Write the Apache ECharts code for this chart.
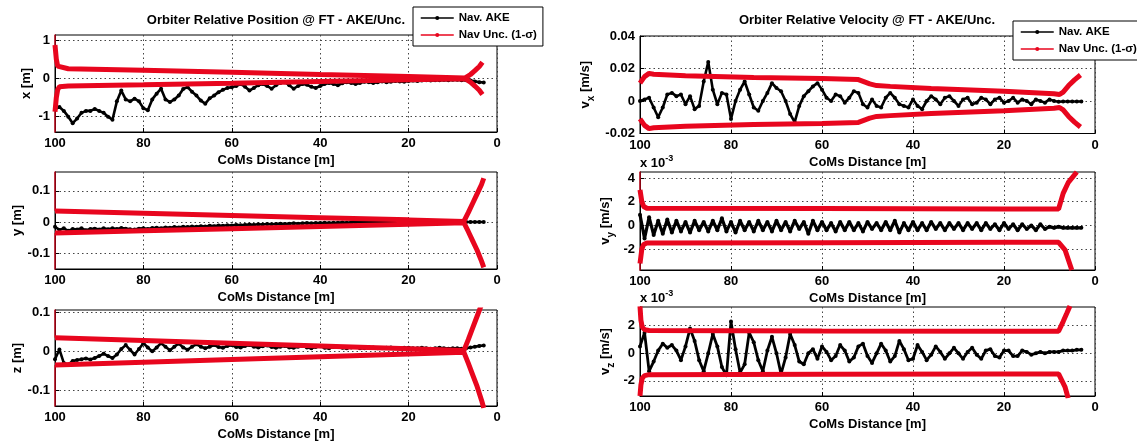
<!DOCTYPE html>
<html>
<head>
<meta charset="utf-8">
<script src="https://cdn.jsdelivr.net/npm/echarts@6/dist/echarts.min.js"></script>
<style>
  html, body { margin: 0; padding: 0; background: #fff; }
  #chart { width: 1137px; height: 446px; }
</style>
</head>
<body>
<div id="chart"></div>
<script>
// CoMs distance of each navigation sample [m]
const dist = [100,99,98,97,96,95,94,93,92,91,90,89,88,87,86,85,84,83,82,81,80,79,78,77,76,75,74,73,72,71,
  70,69,68,67,66,65,64,63,62,61,60,59,58,57,56,55,54,53,52,51,50,49,48,47,46,45,44,43,42,41,
  40,39,38,37,36,35,34,33,32,31,30,29,28,27,26,25,24,23,22,21,20,19,18,17,16,15,14,13,12,11,
  10,9,8,7,6,5,4,3];

// Nav. AKE – relative position [m]
const posX = [
  -0.80,-0.75,-0.85,-1.00,-1.17,-1.05,-0.90,-0.85,-0.85,-0.80,
  -0.85,-0.90,-1.00,-1.08,-0.60,-0.32,-0.55,-0.60,-0.53,-0.60,
  -0.78,-0.83,-0.55,-0.40,-0.27,-0.55,-0.62,-0.55,-0.45,-0.28,
  -0.23,-0.35,-0.45,-0.58,-0.66,-0.52,-0.45,-0.36,-0.30,-0.25,
  -0.23,-0.20,-0.15,-0.22,-0.32,-0.25,-0.18,-0.15,-0.20,-0.27,
  -0.18,-0.12,-0.10,-0.18,-0.27,-0.20,-0.15,-0.17,-0.22,-0.25,
  -0.20,-0.15,-0.12,-0.15,-0.18,-0.13,-0.10,-0.12,-0.15,-0.12,
  -0.09,-0.10,-0.12,-0.10,-0.08,-0.10,-0.09,-0.07,-0.08,-0.09,
  -0.07,-0.06,-0.07,-0.06,-0.05,-0.06,-0.05,-0.05,-0.04,-0.05,
  -0.04,-0.04,-0.05,-0.05,-0.06,-0.08,-0.10,-0.11];
const posY = [
  -0.015,-0.025,-0.020,-0.028,-0.022,-0.024,-0.020,-0.026,-0.022,-0.021,
  -0.024,-0.020,-0.023,-0.020,-0.022,-0.019,-0.021,-0.023,-0.024,-0.021,
  -0.020,-0.022,-0.019,-0.018,-0.020,-0.017,-0.018,-0.016,-0.017,-0.015,
  -0.016,-0.014,-0.015,-0.013,-0.014,-0.012,-0.013,-0.011,-0.012,-0.010,
  -0.011,-0.009,-0.010,-0.009,-0.008,-0.009,-0.007,-0.008,-0.006,-0.007,
  -0.006,-0.005,-0.006,-0.005,-0.004,-0.005,-0.004,-0.003,-0.004,-0.003,
  -0.003,-0.002,-0.003,-0.002,-0.002,-0.001,-0.002,-0.001,-0.001,0.000,
  -0.001,0.000,0.000,-0.001,0.000,0.000,0.000,-0.001,0.000,0.000,
  0.000,0.000,-0.001,0.000,0.000,0.000,0.000,0.000,0.000,0.000,
  0.000,0.000,0.000,0.000,0.000,0.000,0.000,0.000];
const posZ = [
  -0.020,0.005,-0.030,-0.034,-0.025,-0.022,-0.020,-0.018,-0.021,-0.017,
  -0.012,-0.006,-0.012,-0.017,-0.008,0.006,0.016,0.004,-0.008,0.006,
  0.021,0.010,0.000,0.010,0.021,0.012,0.003,0.012,0.020,0.010,
  0.004,0.012,0.018,0.012,0.008,0.012,0.016,0.011,0.009,0.014,
  0.016,0.011,0.010,0.014,0.016,0.012,0.010,0.013,0.015,0.011,
  0.009,0.012,0.014,0.010,0.009,0.012,0.014,0.010,0.008,0.011,
  0.013,0.009,0.008,0.011,0.012,0.009,0.008,0.010,0.011,0.008,
  0.008,0.010,0.010,0.008,0.008,0.009,0.010,0.008,0.008,0.009,
  0.009,0.008,0.008,0.009,0.008,0.007,0.008,0.009,0.008,0.007,
  0.008,0.008,0.007,0.008,0.010,0.012,0.014,0.015];

// Nav. AKE – relative velocity (vx in m/s, vy and vz in 1e-3 m/s)
const velX = [
  0.000,0.001,0.002,-0.004,-0.010,-0.004,0.004,0.005,0.003,0.004,
  -0.002,0.003,-0.005,-0.003,0.012,0.024,0.007,-0.002,0.005,0.004,
  -0.011,0.000,0.007,0.012,0.004,-0.004,-0.006,0.000,0.005,0.011,
  0.008,0.006,0.000,-0.008,-0.013,-0.003,0.003,0.006,0.009,0.011,
  0.007,0.002,0.000,0.004,0.003,-0.001,0.002,0.006,0.005,-0.002,
  -0.004,0.001,-0.003,-0.004,0.002,0.005,0.002,-0.002,-0.003,-0.004,
  0.001,-0.003,-0.005,0.000,0.003,0.001,-0.002,0.002,0.003,0.000,
  -0.003,0.001,0.002,-0.002,-0.001,0.002,0.001,-0.002,0.001,0.002,
  -0.001,0.000,0.002,-0.001,0.001,0.000,-0.002,0.001,0.000,-0.001,
  0.001,0.000,-0.0005,-0.0003,-0.0003,-0.0003,-0.0003,-0.0003];
const velY = [
  0.9,-1.1,0.7,-0.8,0.4,-0.7,0.5,-0.6,0.4,-0.5,
  0.3,-0.6,0.4,-0.4,0.3,-0.5,0.4,-0.4,0.6,-0.5,
  0.3,-0.6,0.4,-0.4,0.3,-0.5,0.4,-0.4,0.3,-0.5,
  0.4,-0.4,0.3,-0.5,0.4,-0.3,0.3,-0.7,0.4,-0.4,
  0.3,-0.4,0.2,-0.5,0.3,-0.4,0.3,-0.4,0.2,-0.5,
  0.3,-0.3,0.2,-0.4,0.3,-0.4,0.4,-0.6,0.2,-0.4,
  0.3,-0.4,0.2,-0.4,0.3,-0.3,0.2,-0.4,0.2,-0.3,
  0.2,-0.4,0.2,-0.3,0.2,-0.4,0.2,-0.3,0.1,-0.4,
  0.2,-0.3,0.1,-0.4,0.1,-0.3,0.0,-0.4,0.1,-0.3,
  -0.1,-0.2,-0.1,-0.2,-0.2,-0.2,-0.2,-0.2];
const velZ = [
  0.5,1.5,-1.3,-0.6,0.2,0.7,0.4,0.6,0.2,-0.5,
  0.5,1.8,0.9,-0.5,-1.3,0.0,1.4,0.5,-1.0,-1.6,
  2.3,0.3,-1.4,-0.8,1.5,0.8,-0.5,-1.3,0.2,1.2,
  0.0,-1.5,-0.3,1.4,0.6,-0.6,-0.8,0.0,0.3,-0.4,
  0.5,0.1,-0.5,-0.2,0.6,0.2,-0.6,-0.3,0.5,0.7,
  -0.2,-0.7,0.0,0.7,0.2,-0.6,-0.2,0.9,0.3,-0.5,
  -0.4,0.6,0.1,-0.5,-0.1,0.5,0.1,-0.4,0.0,0.4,
  0.0,-0.4,0.1,0.4,-0.1,-0.4,0.2,0.3,-0.2,-0.3,
  0.2,0.2,-0.2,-0.2,0.2,0.1,-0.1,0.0,0.1,0.0,
  0.1,0.1,0.1,0.2,0.2,0.2,0.25,0.25];

// Nav Unc. (1-sigma) bounds: distance samples and +/- sigma values.
// The first sample is the initial covariance (drawn as a thin spike).
const posXUpDist  = [100, 100, 99.7, 99.4, 99, 97, 80, 60, 40, 20, 7.2, 6, 5, 4, 3.3];
const posXUp      = [3, 0.87, 0.5, 0.32, 0.27, 0.25, 0.21, 0.16, 0.1, 0.05, 0.01, 0.1, 0.2, 0.31, 0.42];
const posXLowDist = [100, 100, 99.7, 99.4, 99, 97, 80, 60, 40, 20, 7.2, 6, 5, 4, 3.3];
const posXLow     = [-3, -0.87, -0.5, -0.3, -0.22, -0.2, -0.17, -0.13, -0.08, -0.04, -0.01, -0.1, -0.2, -0.31, -0.42];

const posYUpDist  = [100, 100, 80, 60, 40, 20, 7.5, 6.5, 5.5, 4.5, 3.5, 3];
const posYUp      = [0.3, 0.035, 0.028, 0.021, 0.014, 0.007, 0.002, 0.03, 0.06, 0.09, 0.12, 0.14];
const posYLowDist = [100, 100, 80, 60, 40, 20, 7.5, 6.5, 5.5, 4.5, 3.5, 3];
const posYLow     = [-0.3, -0.035, -0.028, -0.021, -0.014, -0.007, -0.002, -0.03, -0.06, -0.09, -0.125, -0.145];

const posZUpDist  = [100, 100, 80, 60, 40, 20, 7.5, 6.5, 5.5, 4.5, 3.5, 3];
const posZUp      = [0.3, 0.035, 0.028, 0.021, 0.014, 0.007, 0.002, 0.03, 0.06, 0.09, 0.12, 0.14];
const posZLowDist = [100, 100, 80, 60, 40, 20, 7.5, 6.5, 5.5, 4.5, 3.5, 3];
const posZLow     = [-0.3, -0.035, -0.028, -0.021, -0.014, -0.007, -0.002, -0.03, -0.06, -0.09, -0.125, -0.145];

const velXUpDist  = [100, 100, 99, 98, 97, 90, 75, 60, 52, 49.5, 48, 45, 36, 20, 9, 7.8, 7, 5.8, 4.5, 3.2];
const velXUp      = [0.011, 0.011, 0.015, 0.017, 0.0165, 0.0155, 0.0145, 0.0138, 0.0132, 0.0105, 0.0095, 0.009, 0.0077, 0.006, 0.0045, 0.004, 0.0055, 0.0095, 0.013, 0.016];
const velXLowDist = [100, 100, 99, 98, 97, 90, 75, 60, 52, 49.5, 48, 45, 36, 20, 9, 7.8, 7, 5.8, 4.5, 3.2];
const velXLow     = [-0.011, -0.011, -0.015, -0.017, -0.0165, -0.0155, -0.0145, -0.0138, -0.0132, -0.0105, -0.0095, -0.009, -0.0077, -0.006, -0.0045, -0.004, -0.0055, -0.0095, -0.013, -0.016];

const velYUpDist  = [100, 100, 99.6, 99.2, 98.5, 60, 20, 8, 7.7, 7.0, 5.9, 4.0];
const velYUp      = [4.8, 3.0, 2.0, 1.6, 1.45, 1.42, 1.38, 1.38, 1.45, 2.7, 3.6, 4.5];
const velYLowDist = [100, 100, 99.6, 99.2, 98.5, 60, 20, 8, 7.7, 6.6, 5.1];
const velYLow     = [-4, -3.2, -2.0, -1.6, -1.48, -1.45, -1.42, -1.42, -1.45, -2.05, -3.75];

const velZUpDist  = [100, 100, 99.8, 99.5, 99, 98, 60, 20, 8, 7.7, 7.0, 6.2, 5.5];
const velZUp      = [3.4, 3.4, 2.4, 1.9, 1.72, 1.65, 1.62, 1.6, 1.6, 1.62, 2.3, 2.9, 3.44];
const velZLowDist = [100, 100, 99.8, 99.5, 99, 98, 60, 20, 8, 7.7, 6.6, 5.9];
const velZLow     = [-3.1, -3.1, -2.3, -1.8, -1.62, -1.55, -1.52, -1.5, -1.5, -1.5, -2.43, -3.25];

// Tick labels of each panel's vertical axis
const posXTicks = [-1, 0, 1];
const posYTicks = [-0.1, 0, 0.1];
const posZTicks = [-0.1, 0, 0.1];
const velXTicks = [-0.02, 0, 0.02, 0.04];
const velYTicks = [-2, 0, 2, 4];
const velZTicks = [-2, 0, 2];

const FONT = "'Liberation Sans', Arial, Helvetica, sans-serif";
const RED = '#e8061e';
const AKE = 'Nav. AKE';
const UNC = 'Nav Unc. (1-\u03c3)';

const subRich = {
  v: { fontSize: 13, fontWeight: 'bold', fontFamily: FONT, color: '#000', lineHeight: 22, verticalAlign: 'middle' },
  s: { fontSize: 10, fontWeight: 'bold', fontFamily: FONT, color: '#000', lineHeight: 22, verticalAlign: 'bottom' }
};

const panels = [
  { grid: { left: 55, top: 35, width: 442, height: 97 }, min: -1.4, max: 1.13, ticks: posXTicks,
    name: 'x [m]', gap: 22, akeWidth: 2.6, ake: posX, up: [posXUpDist, posXUp], low: [posXLowDist, posXLow] },
  { grid: { left: 55, top: 172, width: 442, height: 97 }, min: -0.15, max: 0.16, ticks: posYTicks,
    name: 'y [m]', gap: 22, akeWidth: 2.6, ake: posY, up: [posYUpDist, posYUp], low: [posYLowDist, posYLow] },
  { grid: { left: 55, top: 310, width: 442, height: 96 }, min: -0.14, max: 0.106, ticks: posZTicks,
    name: 'z [m]', gap: 22, akeWidth: 2.6, ake: posZ, up: [posZUpDist, posZUp], low: [posZLowDist, posZLow] },
  { grid: { left: 640, top: 36, width: 455, height: 97.5 }, min: -0.02, max: 0.04, ticks: velXTicks,
    name: '{v|v}{s|x}{v| [m/s]}', gap: 44, akeWidth: 2.6, ake: velX, up: [velXUpDist, velXUp], low: [velXLowDist, velXLow] },
  { grid: { left: 640, top: 172, width: 455, height: 98 }, min: -3.75, max: 4.5, ticks: velYTicks,
    name: '{v|v}{s|y}{v| [m/s]}', gap: 24, akeWidth: 3.2, ake: velY, up: [velYUpDist, velYUp], low: [velYLowDist, velYLow] },
  { grid: { left: 640, top: 307, width: 455, height: 89 }, min: -3.1, max: 3.36, ticks: velZTicks,
    name: '{v|v}{s|z}{v| [m/s]}', gap: 24, akeWidth: 2.8, ake: velZ, up: [velZUpDist, velZUp], low: [velZLowDist, velZLow] }
];

const labelStyle = { fontSize: 13, fontWeight: 'bold', color: '#000', fontFamily: FONT };
const splitStyle = { show: true, lineStyle: { color: '#444', width: 1, type: [1.5, 3] } };

const grids = [], xAxes = [], yAxes = [], series = [];

const pairs = (xs, ys) => xs.map((x, k) => [x, ys[k]]);

panels.forEach((p, i) => {
  grids.push(Object.assign({ show: true, borderColor: '#000', borderWidth: 1, backgroundColor: 'transparent',
    containLabel: false, outerBoundsMode: 'none' }, p.grid));
  xAxes.push({
    type: 'value', gridIndex: i, min: 0, max: 100, interval: 20, inverse: true,
    name: 'CoMs Distance [m]', nameLocation: 'middle', nameGap: 22,
    nameTextStyle: labelStyle,
    axisLine: { show: true, onZero: false, lineStyle: { color: '#000', width: 1 } },
    axisTick: { show: true, inside: true, length: 4, lineStyle: { color: '#000' } },
    axisLabel: { margin: 5, ...labelStyle },
    splitLine: splitStyle
  });
  yAxes.push({
    type: 'value', gridIndex: i, min: p.min, max: p.max,
    name: p.name, nameLocation: 'middle', nameGap: p.gap, nameRotate: 90,
    nameTextStyle: Object.assign({}, labelStyle, { rich: subRich }),
    axisLine: { show: true, onZero: false, lineStyle: { color: '#000', width: 1 } },
    axisTick: { show: true, inside: true, length: 4, customValues: p.ticks, lineStyle: { color: '#000' } },
    axisLabel: { margin: 5, customValues: p.ticks, ...labelStyle },
    splitLine: splitStyle
  });

  // navigation estimate
  series.push({
    type: 'line', name: AKE, xAxisIndex: i, yAxisIndex: i, z: 3,
    data: pairs(dist, p.ake),
    symbol: 'circle', symbolSize: 4, showSymbol: true,
    lineStyle: { color: '#000', width: p.akeWidth }, itemStyle: { color: '#000' }
  });
  // 1-sigma envelope: thick band plus the thin initial spike
  [p.up, p.low].forEach(([ds, vs]) => {
    const pts = pairs(ds, vs);
    series.push({
      type: 'line', name: UNC, xAxisIndex: i, yAxisIndex: i, z: 4,
      data: pts.slice(1), symbol: 'circle', symbolSize: 4, showSymbol: false,
      lineStyle: { color: RED, width: 5 }, itemStyle: { color: RED }
    });
    series.push({
      type: 'line', name: UNC, xAxisIndex: i, yAxisIndex: i, z: 4,
      data: pts.slice(0, 2), symbol: 'circle', symbolSize: 4, showSymbol: false,
      lineStyle: { color: RED, width: 1.2 }, itemStyle: { color: RED }
    });
  });
});

const legendBase = {
  orient: 'vertical', data: [AKE, UNC],
  itemWidth: 33, itemHeight: 5, itemGap: 5,
  padding: [5, 6, 5, 7],
  borderColor: '#000', borderWidth: 1, backgroundColor: '#fff',
  lineStyle: { width: 1.5 },
  textStyle: { fontSize: 11.5, fontWeight: 'bold', color: '#000', fontFamily: FONT },
  selectedMode: false
};

const supRich = {
  a: { fontSize: 13, fontWeight: 'bold', fontFamily: FONT, fill: '#000', lineHeight: 16, verticalAlign: 'bottom' },
  e: { fontSize: 9, fontWeight: 'bold', fontFamily: FONT, fill: '#000', lineHeight: 16, verticalAlign: 'top' }
};

const option = {
  animation: false,
  backgroundColor: '#fff',
  grid: grids,
  xAxis: xAxes,
  yAxis: yAxes,
  series: series,
  legend: [
    Object.assign({ left: 413, top: 7 }, legendBase),
    Object.assign({ left: 1013, top: 21 }, legendBase)
  ],
  graphic: [
    { type: 'text', x: 276, y: 20, z: 10, style: { text: 'Orbiter Relative Position @ FT - AKE/Unc.',
      align: 'center', verticalAlign: 'middle', fill: '#000', fontSize: 13, fontWeight: 'bold', fontFamily: FONT } },
    { type: 'text', x: 867, y: 20, z: 10, style: { text: 'Orbiter Relative Velocity @ FT - AKE/Unc.',
      align: 'center', verticalAlign: 'middle', fill: '#000', fontSize: 13, fontWeight: 'bold', fontFamily: FONT } },
    { type: 'text', x: 640, y: 154, style: { text: '{a|x 10}{e|-3}', rich: supRich } },
    { type: 'text', x: 640, y: 289, style: { text: '{a|x 10}{e|-3}', rich: supRich } }
  ]
};

const chart = echarts.init(document.getElementById('chart'), null, { renderer: 'canvas' });
chart.setOption(option);
</script>
</body>
</html>
